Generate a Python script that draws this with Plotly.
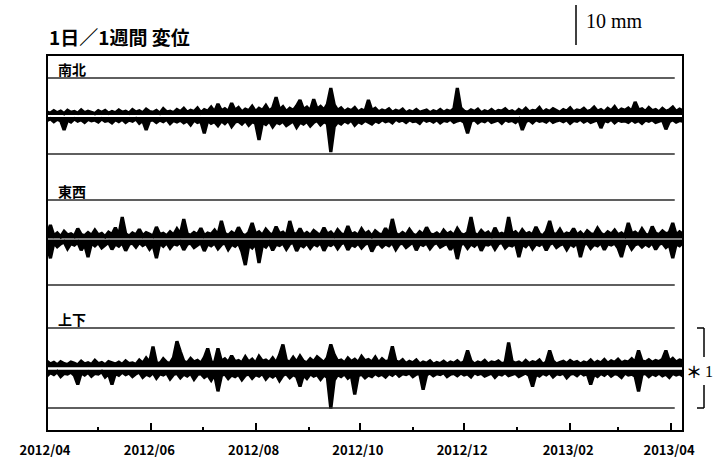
import pandas as pd
import plotly.graph_objects as go

# ---------------- data ----------------
start_date = "2012-04-01"
end_date = "2013-04-08"
step_days = 2

ns_upper = [
    1.0, 0.7, 1.3, 0.8, 1.2, 0.6, 1.4, 0.9, 1.1, 0.7, 1.5, 0.8, 1.2, 1.0, 0.6, 1.3, 0.9, 1.4, 0.7, 1.1,
    0.8, 1.5, 0.9, 1.2, 0.7, 1.6, 1.0, 1.3, 0.8, 1.7, 1.1, 0.9, 1.4, 0.7, 1.8, 1.0, 1.2, 0.8, 1.6, 1.1,
    1.9, 0.9, 1.4, 1.1, 2.0, 0.8, 1.6, 1.2, 2.2, 1.0, 3.0, 1.3, 1.8, 1.1, 3.2, 1.4, 2.1, 1.0, 1.7, 1.3,
    2.4, 1.1, 1.9, 1.4, 2.6, 1.2, 2.0, 4.7, 1.5, 2.3, 1.1, 1.9, 1.4, 2.5, 4.0, 1.6, 2.2, 1.3, 4.2, 1.7,
    2.4, 1.5, 2.9, 7.0, 2.8, 1.4, 2.0, 1.1, 1.7, 1.3, 2.1, 1.0, 1.6, 1.2, 4.0, 1.4, 1.9, 1.0, 1.5, 1.2,
    1.8, 0.9, 1.4, 1.1, 1.7, 0.8, 1.3, 1.0, 1.6, 0.9, 1.2, 1.5, 0.8, 1.3, 1.0, 1.6, 0.9, 1.4, 1.1, 1.8,
    7.0, 2.0, 1.2, 0.9, 1.5, 1.1, 1.7, 0.8, 1.3, 1.0, 1.6, 0.9, 1.4, 1.2, 1.8, 1.0, 1.3, 0.8, 1.6, 1.1,
    1.9, 1.0, 1.4, 1.2, 2.1, 0.9, 1.5, 1.1, 1.8, 1.3, 0.9, 1.6, 1.2, 2.0, 1.0, 1.5, 1.3, 1.9, 1.1, 1.4,
    2.2, 1.2, 1.6, 1.0, 1.9, 1.3, 2.3, 1.1, 1.7, 1.4, 2.0, 1.2, 3.5, 1.5, 1.8, 1.1, 2.1, 1.3, 1.6, 1.0,
    1.9, 1.2, 1.5, 2.2, 1.1, 1.7, 1.3, 2.0, 1.2, 1.6, 1.1,
]
ns_lower = [
    -1.1, -0.7, -1.4, -0.8, -1.2, -3.5, -1.0, -1.5, -0.7, -1.3, -0.9, -1.6, -0.8, -1.2, -1.0, -1.5, -0.7, -1.3, -1.1, -1.7,
    -0.9, -1.4, -0.8, -1.6, -1.0, -1.3, -0.7, -1.8, -1.1, -3.5, -1.2, -0.9, -1.6, -1.0, -1.4, -0.8, -1.9, -1.1, -1.5, -1.0,
    -1.7, -1.2, -2.2, -1.0, -1.6, -1.3, -4.3, -1.1, -1.8, -1.4, -2.4, -1.2, -1.9, -1.0, -2.6, -1.5, -1.3, -2.0, -1.1, -2.3,
    -1.4, -1.8, -6.0, -1.6, -2.1, -1.2, -2.7, -1.5, -1.9, -1.3, -2.4, -1.7, -1.2, -2.8, -1.5, -2.0, -1.3, -2.5, -1.6, -1.1,
    -2.2, -1.4, -1.9, -9.0, -2.6, -1.5, -2.0, -1.2, -1.7, -1.0, -2.3, -1.4, -1.8, -1.1, -1.5, -2.0, -1.2, -1.6, -0.9, -1.4,
    -1.1, -1.7, -0.8, -1.3, -1.0, -1.6, -0.9, -1.4, -1.2, -1.8, -0.8, -1.3, -1.0, -1.5, -0.9, -1.7, -1.1, -1.3, -0.8, -1.6,
    -1.2, -1.0, -1.5, -4.3, -1.3, -0.9, -1.7, -1.1, -1.4, -0.8, -1.6, -1.2, -1.0, -1.8, -0.9, -1.3, -1.1, -1.6, -0.8, -3.5,
    -1.4, -1.0, -1.7, -0.9, -1.3, -1.1, -1.5, -0.8, -1.6, -1.2, -1.0, -1.4, -0.9, -1.8, -1.1, -1.3, -0.8, -1.5, -1.0, -1.6,
    -1.2, -0.9, -3.0, -1.1, -1.4, -0.8, -1.7, -1.0, -1.3, -1.2, -1.6, -0.9, -1.5, -1.1, -1.8, -1.0, -1.3, -0.9, -1.6, -1.2,
    -1.0, -3.3, -1.4, -0.9, -1.5, -1.1, -1.3, -0.8, -1.6, -1.0, -1.2,
]
ew_upper = [
    1.2, 3.5, 0.8, 1.5, 0.6, 1.9, 1.0, 1.3, 0.7, 2.6, 1.1, 0.8, 1.6, 0.9, 2.2, 1.0, 1.4, 0.6, 1.7, 1.1,
    2.8, 0.9, 5.5, 1.3, 0.7, 1.5, 1.0, 2.4, 0.8, 1.6, 1.2, 0.7, 3.0, 1.1, 1.4, 0.8, 1.8, 1.0, 2.5, 1.2,
    5.0, 1.3, 0.9, 1.6, 1.1, 2.7, 0.8, 1.5, 1.2, 2.2, 1.0, 4.5, 1.4, 0.9, 1.7, 1.1, 2.9, 1.3, 0.8, 1.6,
    4.0, 1.2, 1.8, 0.9, 2.4, 1.4, 1.0, 3.1, 1.3, 1.7, 0.8, 4.5, 1.5, 1.1, 2.6, 1.0, 1.6, 0.9, 2.1, 1.4,
    1.0, 2.8, 1.2, 1.7, 0.8, 2.3, 1.3, 1.0, 3.2, 1.1, 1.5, 0.9, 2.5, 1.2, 1.8, 0.7, 2.0, 1.3, 1.0, 2.7,
    1.1, 5.0, 1.4, 0.9, 1.6, 1.0, 2.4, 1.2, 0.8, 1.8, 1.1, 2.9, 1.3, 1.0, 1.5, 0.8, 2.2, 1.2, 1.7, 0.9,
    2.6, 1.3, 1.0, 1.6, 5.5, 1.4, 0.9, 2.1, 1.2, 1.7, 0.8, 2.8, 1.1, 1.4, 1.0, 5.5, 1.3, 1.8, 0.9, 2.3,
    1.2, 1.6, 1.0, 3.0, 1.3, 0.8, 1.9, 4.5, 1.4, 1.1, 2.4, 0.9, 1.5, 1.2, 2.6, 1.0, 1.7, 0.8, 2.0, 1.3,
    1.1, 2.7, 1.4, 0.9, 1.8, 1.2, 2.2, 1.0, 1.5, 0.8, 4.0, 1.3, 1.7, 1.0, 2.5, 1.2, 0.9, 3.1, 1.4, 1.1,
    2.0, 1.3, 1.6, 4.0, 1.0, 1.8, 1.2, 2.6, 0.9, 1.5, 1.3,
]
ew_lower = [
    -1.6, -4.8, -0.9, -1.9, -1.2, -0.7, -2.4, -1.1, -1.5, -0.8, -2.8, -1.3, -4.5, -1.0, -1.7, -0.9, -2.2, -1.4, -0.8, -2.6,
    -1.2, -1.8, -0.9, -2.9, -1.3, -1.0, -2.0, -0.8, -1.6, -1.1, -2.5, -1.4, -4.8, -1.0, -1.8, -0.9, -2.3, -1.2, -1.5, -0.8,
    -2.7, -1.3, -1.0, -2.1, -1.5, -0.9, -3.0, -1.2, -1.7, -1.0, -2.4, -1.4, -0.9, -2.6, -1.3, -1.8, -1.0, -3.1, -6.5, -1.5,
    -2.2, -1.1, -6.0, -1.4, -2.0, -0.9, -2.8, -1.3, -1.6, -1.0, -2.5, -1.2, -0.8, -3.0, -1.4, -1.9, -1.0, -2.3, -1.2, -1.7,
    -0.9, -2.9, -1.3, -1.6, -1.0, -2.4, -1.2, -0.8, -2.7, -1.4, -1.8, -1.0, -2.2, -1.3, -0.9, -3.1, -1.5, -1.1, -2.0, -1.2,
    -1.7, -0.9, -2.6, -1.3, -1.0, -2.1, -1.4, -0.8, -2.8, -1.2, -1.6, -1.0, -2.4, -1.3, -0.9, -2.0, -1.5, -1.1, -2.7, -1.2,
    -5.0, -1.4, -1.0, -2.3, -1.2, -1.8, -0.9, -2.9, -1.3, -1.5, -1.0, -2.5, -1.2, -0.8, -2.2, -1.4, -1.7, -1.0, -4.5, -1.3,
    -1.9, -0.9, -2.4, -1.2, -1.6, -1.0, -2.8, -1.3, -0.9, -2.1, -1.5, -1.1, -2.6, -1.2, -1.8, -0.9, -4.5, -1.4, -1.0, -2.3,
    -1.3, -1.7, -0.9, -2.7, -1.2, -1.5, -1.0, -2.2, -4.5, -1.3, -0.9, -2.5, -1.4, -1.1, -2.0, -1.2, -1.8, -0.9, -2.6, -1.3,
    -1.0, -2.1, -1.4, -4.8, -1.2, -1.7, -0.9, -2.4, -1.3, -1.5, -1.1,
]
ud_upper = [
    1.8, 1.1, 1.5, 0.9, 1.7, 1.2, 1.0, 1.6, 1.3, 0.9, 1.8, 1.1, 1.4, 1.0, 2.0, 1.2, 1.5, 0.9, 1.7, 1.3,
    1.1, 1.6, 1.0, 1.9, 1.2, 1.4, 1.0, 2.1, 1.3, 2.6, 1.5, 5.5, 1.4, 1.2, 2.4, 1.5, 1.3, 2.7, 6.8, 4.2,
    1.8, 1.4, 2.5, 1.6, 2.0, 1.3, 2.7, 5.0, 1.7, 1.4, 5.0, 1.8, 2.4, 1.5, 3.2, 1.7, 2.0, 1.4, 2.9, 1.6,
    2.3, 1.3, 3.0, 1.8, 2.1, 1.5, 2.6, 1.4, 3.3, 6.0, 2.0, 1.5, 2.8, 1.6, 3.1, 1.8, 1.4, 2.4, 1.7, 2.9,
    2.2, 1.5, 2.7, 6.0, 3.4, 1.8, 2.1, 1.4, 2.6, 1.7, 2.3, 1.5, 3.0, 1.9, 2.2, 1.6, 2.8, 1.4, 2.4, 1.7,
    2.0, 5.5, 1.9, 1.5, 2.2, 1.2, 1.8, 1.4, 2.1, 1.1, 1.6, 1.3, 1.9, 1.0, 1.5, 1.2, 1.8, 1.1, 1.6, 1.3,
    1.9, 1.2, 1.7, 4.5, 1.9, 1.1, 1.6, 1.3, 2.0, 1.1, 1.6, 1.4, 1.9, 1.2, 1.5, 6.5, 1.8, 1.3, 1.6, 1.1,
    2.0, 1.2, 1.7, 1.4, 2.1, 1.0, 1.6, 4.5, 1.9, 1.1, 1.5, 1.8, 1.2, 2.0, 1.4, 1.7, 1.1, 1.6, 1.3, 2.1,
    1.2, 1.8, 1.4, 2.2, 1.3, 1.9, 1.5, 2.3, 1.4, 1.8, 1.6, 2.4, 1.5, 4.5, 1.9, 1.6, 2.2, 1.5, 2.0, 1.7,
    2.3, 4.5, 1.8, 2.5, 1.6, 2.1, 1.9, 2.6, 1.7, 2.2, 1.8,
]
ud_lower = [
    -1.8, -1.0, -1.5, -0.8, -2.0, -1.2, -1.4, -0.9, -1.7, -4.0, -1.1, -1.6, -0.9, -1.9, -1.2, -1.4, -0.8, -2.1, -1.3, -4.0,
    -1.2, -1.7, -0.9, -1.5, -1.1, -2.0, -1.3, -0.9, -2.2, -1.4, -1.8, -1.0, -2.4, -1.3, -1.6, -1.1, -2.6, -1.5, -1.2, -2.3,
    -1.4, -1.9, -1.2, -2.7, -1.5, -1.3, -2.2, -1.6, -2.9, -1.4, -5.7, -1.8, -1.3, -2.5, -1.6, -2.0, -1.4, -2.8, -1.7, -1.3,
    -2.4, -1.5, -1.9, -1.2, -2.6, -1.6, -2.1, -1.4, -3.0, -1.7, -1.3, -2.3, -1.5, -2.0, -4.5, -1.6, -2.5, -1.3, -1.9, -1.5,
    -2.7, -1.6, -2.2, -10.0, -2.9, -1.5, -2.0, -1.3, -2.4, -1.7, -6.5, -1.8, -1.4, -2.3, -1.6, -2.0, -1.2, -1.8, -1.4, -2.1,
    -1.2, -1.7, -1.0, -1.9, -1.3, -1.5, -1.1, -2.0, -1.4, -1.2, -5.3, -1.6, -1.1, -1.8, -1.3, -1.5, -1.0, -2.0, -1.4, -1.2,
    -1.8, -1.1, -1.6, -1.3, -2.1, -1.0, -1.5, -1.2, -1.9, -1.4, -1.1, -2.2, -1.3, -1.6, -1.0, -1.8, -1.4, -1.2, -2.0, -1.5,
    -1.1, -1.7, -4.5, -1.4, -1.9, -1.2, -1.6, -1.0, -2.1, -1.3, -1.5, -1.1, -2.3, -1.4, -1.2, -1.8, -1.0, -1.6, -1.3, -4.0,
    -1.4, -2.0, -1.2, -1.7, -1.0, -1.9, -1.3, -1.5, -2.2, -1.1, -1.6, -1.4, -1.9, -5.7, -1.5, -1.2, -2.0, -1.3, -1.7, -1.1,
    -1.8, -1.4, -2.2, -1.2, -1.6, -1.3, -1.9, -1.1, -1.5, -1.4, -1.7,
]

panel_names = ["南北", "東西", "上下"]
upper_series = [ns_upper, ew_upper, ud_upper]
lower_series = [ns_lower, ew_lower, ud_lower]
gap_half_mm = [0.25, 0.15, 0.3]      # half-width of the white seam between the two traces
ref_top = [9.5, 9.75, 10.1]
ref_bottom = [-9.5, -11.5, -9.9]
title_text = "1日／1週間 変位"
scale_text = "10 mm"
scale_mm = 10
note_mark = "＊"
note_num = "1"
tick_format = "%Y/%m"

# ---------------- layout helpers (pixels -> paper) ----------------
W, H = 714, 463
PL, PR, PT, PB = 47, 683, 55, 431
PW, PH = PR - PL, PB - PT
PX_PER_MM = 4.0
HALF_MM = 12
centers_px = [116, 239, 368.5]


def fx(px):
    return (px - PL) / PW


def fy(py):
    return (PB - py) / PH


def dates_for(series):
    return pd.date_range(start_date, periods=len(series), freq=f"{step_days}D")


fig = go.Figure()
axis_names = ["y", "y2", "y3"]
layout_axes = {}
for i in range(3):
    c = centers_px[i]
    dom = [fy(c + HALF_MM * PX_PER_MM), fy(c - HALF_MM * PX_PER_MM)]
    key = "yaxis" if i == 0 else f"yaxis{i + 1}"
    layout_axes[key] = dict(domain=dom, range=[-HALF_MM, HALF_MM], visible=False,
                            showgrid=False, zeroline=False, anchor="x", fixedrange=True,
                            automargin=False)
    for series, sign in ((upper_series[i], 1), (lower_series[i], -1)):
        d = dates_for(series)
        # inner edge of the band (the seam), then the trace filled to it
        fig.add_trace(go.Scatter(x=d, y=[sign * gap_half_mm[i]] * len(series), mode="lines",
                                 xaxis="x", yaxis=axis_names[i],
                                 line=dict(color="rgba(0,0,0,0)", width=0),
                                 hoverinfo="skip", showlegend=False))
        fig.add_trace(go.Scatter(x=d, y=series, mode="lines", xaxis="x", yaxis=axis_names[i],
                                 fill="tonexty", fillcolor="black",
                                 line=dict(color="black", width=3.3), hoverinfo="skip",
                                 showlegend=False))
    for lvl in (ref_top[i], ref_bottom[i]):
        fig.add_shape(type="line", xref="paper", x0=0, x1=0.987, yref=axis_names[i],
                      y0=lvl, y1=lvl, line=dict(color="#2a2a2a", width=1.5))
    fig.add_annotation(text=f"<b>{panel_names[i]}</b>", xref="paper", x=fx(56),
                       yref=axis_names[i], y=ref_top[i], yanchor="bottom", xanchor="left",
                       yshift=-3, showarrow=False,
                       font=dict(family="Noto Sans CJK JP", size=14, color="black"))

fig.update_layout(
    width=W, height=H,
    margin=dict(l=PL, r=W - PR, t=PT, b=H - PB, autoexpand=False),
    paper_bgcolor="white", plot_bgcolor="white",
    showlegend=False,
    xaxis=dict(type="date", range=[start_date, end_date], anchor="free", position=0,
               showgrid=False, zeroline=False, showline=False, automargin=False,
               ticks="inside", tick0=start_date, dtick="M2", ticklen=8, tickwidth=2,
               tickcolor="black", tickformat=tick_format,
               tickfont=dict(family="Noto Sans CJK JP", size=13, color="black", weight="bold"),
               ticklabelshift=-2, ticklabelstandoff=10,
               minor=dict(tick0=start_date, dtick="M1", ticks="inside", ticklen=4,
                          tickwidth=1.5, tickcolor="black", showgrid=False),
               fixedrange=True),
    **layout_axes,
)

# frame
fig.add_shape(type="rect", xref="paper", yref="paper", x0=0, x1=1, y0=0, y1=1,
              line=dict(color="black", width=2))

# title
fig.add_annotation(text=title_text, xref="paper", yref="paper", x=0, y=fy(36),
                   xanchor="left", yanchor="middle", showarrow=False,
                   font=dict(family="Noto Sans CJK JP", size=19, color="black", weight="bold"))

# scale bar
bar_x = 576
bar_bottom = 45
bar_top = bar_bottom - scale_mm * PX_PER_MM
fig.add_shape(type="line", xref="paper", yref="paper", x0=fx(bar_x), x1=fx(bar_x),
              y0=fy(bar_bottom), y1=fy(bar_top), line=dict(color="black", width=1.5))
fig.add_annotation(text=scale_text, xref="paper", yref="paper", x=fx(584), y=fy(21),
                   xanchor="left", yanchor="middle", showarrow=False,
                   font=dict(family="Liberation Serif", size=20, color="black"))

# bracket with note
bx, bl = 704, 697
btop, bbot = 328, 408
for (y0, y1) in [(btop, 357), (385, bbot)]:
    fig.add_shape(type="line", xref="paper", yref="paper", x0=fx(bx), x1=fx(bx),
                  y0=fy(y0), y1=fy(y1), line=dict(color="black", width=1.5))
for yy in (btop, bbot):
    fig.add_shape(type="line", xref="paper", yref="paper", x0=fx(bl), x1=fx(bx),
                  y0=fy(yy), y1=fy(yy), line=dict(color="black", width=1.5))
fig.add_annotation(text=note_mark, xref="paper", yref="paper", x=fx(694), y=fy(371),
                   xanchor="center", yanchor="middle", showarrow=False,
                   font=dict(family="Noto Sans CJK JP", size=16, color="black", weight="bold"))
fig.add_annotation(text=note_num, xref="paper", yref="paper", x=fx(709), y=fy(371),
                   xanchor="center", yanchor="middle", showarrow=False,
                   font=dict(family="Liberation Serif", size=16, color="black"))

fig.write_html("out.html", config={"displayModeBar": False},
               post_script="document.body.style.margin='0';document.body.style.padding='0';")
